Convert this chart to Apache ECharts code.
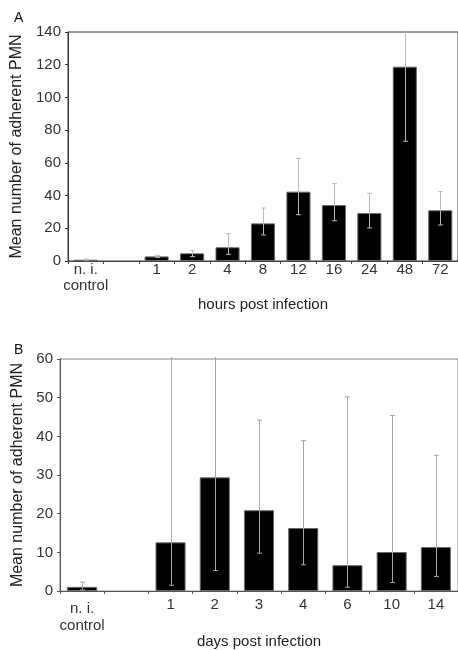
<!DOCTYPE html>
<html>
<head>
<meta charset="utf-8">
<script src="https://cdn.jsdelivr.net/npm/echarts@6/dist/echarts.min.js"></script>
<style>
  html, body { margin: 0; padding: 0; background: #fff; }
  #chart { width: 458px; height: 650px; }
</style>
</head>
<body>
<div id="chart"></div>
<script>
// Panel A: adherent PMN by hours post infection (mean with lower/upper error limits)
const hoursCategories = ['n. i.\ncontrol', '', '1', '2', '4', '8', '12', '16', '24', '48', '72'];
const hoursMean = [0.8, null, 2.8, 4.7, 8.4, 23.0, 42.4, 34.2, 29.3, 118.8, 31.0];
const hoursLow  = [0.5, null, 2.2, 2.7, 4.1, 15.9, 28.3, 24.6, 20.2, 73.2, 22.0];
const hoursHigh = [1.2, null, 3.5, 6.5, 16.7, 32.4, 62.8, 47.3, 41.4, 164.4, 42.4];
const hoursTicks = [0, 20, 40, 60, 80, 100, 120, 140];

// Panel B: adherent PMN by days post infection
const daysCategories = ['n. i.\ncontrol', '', '1', '2', '3', '4', '6', '10', '14'];
const daysMean = [1.1, null, 12.6, 29.4, 20.9, 16.3, 6.7, 10.1, 11.4];
const daysLow  = [0.3, null, 1.5, 5.3, 9.8, 6.8, 1.0, 2.2, 3.8];
const daysHigh = [2.3, null, 63, 64, 44.2, 38.9, 50.2, 45.4, 35.1];
const daysTicks = [0, 10, 20, 30, 40, 50, 60];

const FONT = '"Liberation Sans", Arial, sans-serif';
const LABEL_SIZE = 15;

function errorData(low, high) {
  const out = [];
  for (let i = 0; i < low.length; i++) {
    if (low[i] == null) continue;
    out.push([i, low[i], high[i]]);
  }
  return out;
}

// Whisker with caps; values above the axis maximum run just past the frame without a cap.
function makeErrorRenderer(axisMax, color) {
  return function (params, api) {
    const x = api.value(0);
    const lo = api.value(1);
    const hi = api.value(2);
    const clipped = hi > axisMax;
    const pLo = api.coord([x, lo]);
    const pHi = api.coord([x, clipped ? axisMax : hi]);
    const top = clipped ? pHi[1] - 2 : pHi[1];
    const cx = Math.round(pLo[0]) + 0.5;
    const half = 2.5;
    const style = { stroke: color, lineWidth: 1, fill: null };
    const children = [
      { type: 'line', shape: { x1: cx, y1: pLo[1], x2: cx, y2: top }, style: style },
      { type: 'line', shape: { x1: cx - half, y1: pLo[1], x2: cx + half, y2: pLo[1] }, style: style }
    ];
    if (!clipped) {
      children.push({ type: 'line', shape: { x1: cx - half, y1: pHi[1], x2: cx + half, y2: pHi[1] }, style: style });
    }
    return { type: 'group', children: children };
  };
}

function yAxisFor(gridIndex, ticks, gap, lineColor) {
  return {
    type: 'value', gridIndex: gridIndex,
    min: ticks[0], max: ticks[ticks.length - 1], interval: ticks[1] - ticks[0],
    name: 'Mean number of adherent PMN',
    nameLocation: 'middle', nameGap: gap,
    nameTextStyle: { fontFamily: FONT, fontSize: 16, color: '#222' },
    axisLine: { show: true, lineStyle: { color: lineColor, width: 1 } },
    axisTick: { show: true, length: 3, lineStyle: { color: lineColor } },
    axisLabel: { fontFamily: FONT, fontSize: LABEL_SIZE, color: '#333', margin: 7 },
    splitLine: { show: false }
  };
}

function xAxisFor(gridIndex, cats, title, gap, lineColor, labelMargin, ctrlPad, ctrlLine) {
  return {
    type: 'category', gridIndex: gridIndex, data: cats,
    name: title, nameLocation: 'middle', nameGap: gap,
    nameTextStyle: { fontFamily: FONT, fontSize: LABEL_SIZE, color: '#222' },
    axisLine: { show: true, lineStyle: { color: lineColor, width: 1 } },
    axisTick: { show: true, length: 3, lineStyle: { color: lineColor } },
    axisLabel: {
      interval: 0, margin: labelMargin, fontFamily: FONT, fontSize: LABEL_SIZE, color: '#333', lineHeight: 16,
      formatter: function (v) { return v.indexOf('\n') >= 0 ? '{c|' + v + '}' : v; },
      rich: { c: { fontFamily: FONT, fontSize: LABEL_SIZE, color: '#333', lineHeight: ctrlLine, padding: [ctrlPad, 0, 0, 0] } }
    }
  };
}

const chart = echarts.init(document.getElementById('chart'), null, { renderer: 'canvas' });

chart.setOption({
  animation: false,
  backgroundColor: '#fff',
  title: [
    { text: 'A', left: 9, top: 6, textStyle: { fontFamily: FONT, fontSize: 14, fontWeight: 'normal', color: '#111' } },
    { text: 'B', left: 9, top: 338, textStyle: { fontFamily: FONT, fontSize: 14, fontWeight: 'normal', color: '#111' } }
  ],
  grid: [
    { left: 68, top: 32, width: 394, height: 229, show: true, borderColor: '#3a3a3a', borderWidth: 1, backgroundColor: 'transparent' },
    { left: 60, top: 359, width: 399, height: 235, show: true, borderColor: '#858585', borderWidth: 1, backgroundColor: 'transparent' }
  ],
  xAxis: [
    xAxisFor(0, hoursCategories, 'hours post infection', 36, '#444', 1, 0, 16),
    xAxisFor(1, daysCategories, 'days post infection', 38, '#555', 6, 6, 17)
  ],
  yAxis: [
    yAxisFor(0, hoursTicks, 38, '#333'),
    yAxisFor(1, daysTicks, 30, '#555')
  ],
  series: [
    {
      type: 'bar', xAxisIndex: 0, yAxisIndex: 0, data: hoursMean, barWidth: '68%',
      itemStyle: { color: '#000', borderColor: '#6a6a6a', borderWidth: 1 }
    },
    {
      type: 'custom', xAxisIndex: 0, yAxisIndex: 0, data: errorData(hoursLow, hoursHigh),
      encode: { x: 0, y: [1, 2] }, z: 5,
      renderItem: makeErrorRenderer(hoursTicks[hoursTicks.length - 1], '#b9b9b9')
    },
    {
      type: 'bar', xAxisIndex: 1, yAxisIndex: 1, data: daysMean, barWidth: '68%',
      itemStyle: { color: '#000', borderColor: '#6a6a6a', borderWidth: 1 }
    },
    {
      type: 'custom', xAxisIndex: 1, yAxisIndex: 1, data: errorData(daysLow, daysHigh),
      encode: { x: 0, y: [1, 2] }, z: 5,
      renderItem: makeErrorRenderer(daysTicks[daysTicks.length - 1], '#a6a6a6')
    }
  ]
});
</script>
</body>
</html>
